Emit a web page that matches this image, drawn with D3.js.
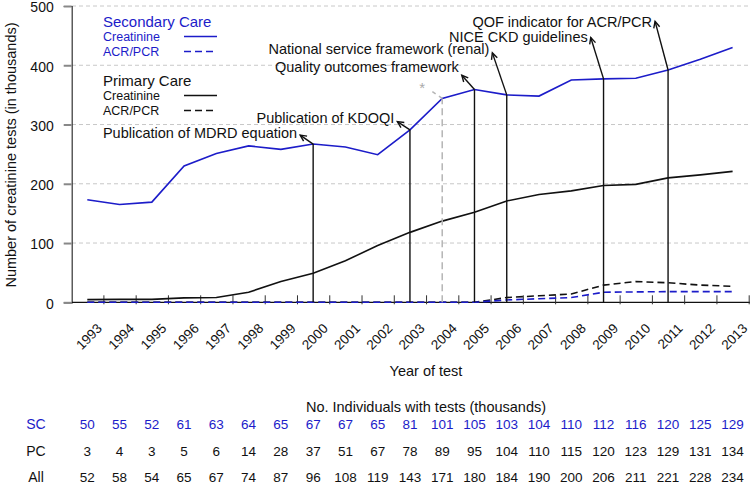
<!DOCTYPE html>
<html>
<head>
<meta charset="utf-8">
<script src="https://cdn.jsdelivr.net/npm/d3@7"></script>
<style>
body{margin:0;background:#fff}
svg text{font-family:"Liberation Sans",Arial,sans-serif}
</style>
</head>
<body>
<svg id="chart" width="750" height="486"></svg>
<script>
// yearly test counts, thousands
var years = [1993,1994,1995,1996,1997,1998,1999,2000,2001,2002,2003,2004,2005,2006,2007,2008,2009,2010,2011,2012,2013]
var scCreat = [173,165,169,230,251,264,258,267,262,249,291,344,359,350,348,375,377,378,392,410,430]
var scAcr = [0,0,0,0,0,0,0,0,0,0,0,0,0,4,6,8,17,17.5,18,18,18]
var pcCreat = [4.5,5,5,7.5,8,17,35,49,70,96,118,137,152,171,182,188,197,199,210,215,221]
var pcAcr = [0,0,0,0,0,0,0,0,0,0,0,0,0,8,11,14,29,35,33,29,27]

// individuals with tests, thousands
var scInd = [50,55,52,61,63,64,65,67,67,65,81,101,105,103,104,110,112,116,120,125,129]
var pcInd = [3,4,3,5,6,14,28,37,51,67,78,89,95,104,110,115,120,123,129,131,134]
var allInd = [52,58,54,65,67,74,87,96,108,119,143,171,180,184,190,200,206,211,221,228,234]

var yTicks = [0,100,200,300,400,500]

var annoYears = [2000,2003,2005,2006,2009,2011]
var annoLabels = ["Publication of MDRD equation","Publication of KDOQI","Quality outcomes framework",
  "National service framework (renal)","NICE CKD guidelines","QOF indicator for ACR/PCR"]
var markYear = 2004

var blue = "#1c1cc9"
var svg = d3.select("#chart")

var x = d3.scaleLinear().domain([1993,2013]).range([87.3,732.6])
var xt = d3.scaleLinear().domain([1993,2013]).range([103.4,748.7])
var y = d3.scaleLinear().domain([0,500]).range([302.3,6])

// grid
svg.append("g").selectAll("line").data(yTicks.slice(1)).join("line")
  .attr("x1",72).attr("x2",750)
  .attr("y1",d=>y(d)).attr("y2",d=>y(d))
  .attr("stroke","#c8c8c8").attr("stroke-dasharray","4,3").attr("stroke-width",1)

// y axis
var gy = svg.append("g").attr("transform","translate(71.7,0)")
  .call(d3.axisLeft(y).tickValues(yTicks).tickSize(8).tickPadding(10))
gy.select(".domain").attr("stroke","#333").attr("stroke-width",1.2)
gy.selectAll(".tick line").attr("stroke","#888").attr("stroke-width",2)
gy.selectAll(".tick text").attr("font-size",14).attr("fill","#111").attr("dy","0.42em")
  .attr("font-family","Liberation Sans, Arial, sans-serif")

// x axis
var gx = svg.append("g").attr("transform","translate(0,302.3)")
  .call(d3.axisBottom(xt).tickValues(years).tickFormat(d3.format("d")).tickSizeOuter(0).tickSize(0))
gx.select(".domain").attr("d","M72,0H750").attr("stroke","#111").attr("stroke-width",1.2)
gx.selectAll(".tick").append("line").attr("y1",-7).attr("y2",2).attr("stroke","#333")
gx.selectAll(".tick text")
  .attr("font-size",13.5).attr("fill","#111")
  .attr("font-family","Liberation Sans, Arial, sans-serif")
  .attr("text-anchor","end").attr("dy",null).attr("y",0)
  .attr("transform","translate(-1,27) rotate(-45)")

// axis titles
svg.append("text").attr("x",426).attr("y",376).attr("text-anchor","middle")
  .attr("font-size",14.5).attr("fill","#111").text("Year of test")
svg.append("text").attr("transform","translate(16,155) rotate(-90)").attr("text-anchor","middle")
  .attr("font-size",14.5).attr("fill","#111").text("Number of creatinine tests (in thousands)")

// series
var line = d3.line().x((d,i)=>x(years[i])).y(d=>y(d))
function drawSeries(vals,col,dash){
  svg.append("path").datum(vals).attr("d",line)
    .attr("fill","none").attr("stroke",col).attr("stroke-width",1.6)
    .attr("stroke-dasharray",dash)
}
drawSeries(pcAcr,"#111","7,4")
drawSeries(scAcr,blue,"7,4")
drawSeries(pcCreat,"#111",null)
drawSeries(scCreat,blue,null)

// marker at 2004
var mi = years.indexOf(markYear)
svg.append("line").attr("x1",x(markYear)).attr("x2",x(markYear))
  .attr("y1",y(0)).attr("y2",y(scCreat[mi]))
  .attr("stroke","#b5b5b5").attr("stroke-width",1.5).attr("stroke-dasharray","7,4")
svg.append("line").attr("x1",x(markYear)).attr("y1",y(scCreat[mi]))
  .attr("x2",x(markYear)-13).attr("y2",y(scCreat[mi])-9)
  .attr("stroke","#b5b5b5").attr("stroke-width",1.5).attr("stroke-dasharray","4,4")
svg.append("text").attr("x",x(markYear)-20).attr("y",y(scCreat[mi])-5)
  .attr("text-anchor","middle").attr("font-size",15).attr("fill","#aaa").text("*")

// annotations: tip dx, tip dy, label dy
var annoLayout = [[-13,-9,-2],[-12.6,-8.3,-4],[-12.7,-14.3,-8],[-14.4,-42,-4],[-12.8,-41.4,-0.6],[-13,-48.6,1]]
annoYears.forEach(function(yr,k){
  var i = years.indexOf(yr)
  var px = x(yr), py = y(scCreat[i])
  var L = annoLayout[k]
  var tx = px+L[0], ty = py+L[1]
  svg.append("line").attr("x1",px).attr("x2",px).attr("y1",y(0)).attr("y2",py)
    .attr("stroke","#111").attr("stroke-width",1.4)
  svg.append("line").attr("x1",px).attr("y1",py).attr("x2",tx).attr("y2",ty)
    .attr("stroke","#111").attr("stroke-width",1.4)
  var a = Math.atan2(py-ty,px-tx), h = 7
  svg.append("path")
    .attr("d","M"+(tx+h*Math.cos(a+0.45))+","+(ty+h*Math.sin(a+0.45))+"L"+tx+","+ty+
      "L"+(tx+h*Math.cos(a-0.45))+","+(ty+h*Math.sin(a-0.45)))
    .attr("fill","none").attr("stroke","#111").attr("stroke-width",1.4)
  svg.append("text").attr("x",tx-3).attr("y",ty+L[2]+5).attr("text-anchor","end")
    .attr("font-size",14.5).attr("fill","#111").text(annoLabels[k])
})

// legend
var leg = [
  {t:"Secondary Care",y:27,size:15,col:blue},
  {t:"Creatinine",y:41,size:12.5,col:blue,dash:null},
  {t:"ACR/PCR",y:56,size:12.5,col:blue,dash:"7,4"},
  {t:"Primary Care",y:86,size:15,col:"#111"},
  {t:"Creatinine",y:100,size:12.5,col:"#111",dash:null},
  {t:"ACR/PCR",y:115,size:12.5,col:"#111",dash:"7,4"}
]
leg.forEach(function(d){
  svg.append("text").attr("x",103).attr("y",d.y).attr("font-size",d.size).attr("fill",d.col).text(d.t)
  if(d.size<14){
    svg.append("line").attr("x1",184).attr("x2",217).attr("y1",d.y-4.5).attr("y2",d.y-4.5)
      .attr("stroke",d.col).attr("stroke-width",1.6).attr("stroke-dasharray",d.dash)
  }
})

// table of individuals
svg.append("text").attr("x",426).attr("y",412).attr("text-anchor","middle")
  .attr("font-size",14.5).attr("fill","#111").text("No. Individuals with tests (thousands)")
var rows = [["SC",scInd,blue,428.5],["PC",pcInd,"#111",455.5],["All",allInd,"#111",482]]
rows.forEach(function(r){
  svg.append("text").attr("x",36).attr("y",r[3]).attr("text-anchor","middle")
    .attr("font-size",14).attr("fill",r[2]).text(r[0])
  svg.append("g").selectAll("text").data(r[1]).join("text")
    .attr("x",(d,i)=>x(years[i])).attr("y",r[3]).attr("text-anchor","middle")
    .attr("font-size",13.5).attr("fill",r[2]).text(d=>d)
})
</script>
</body>
</html>
